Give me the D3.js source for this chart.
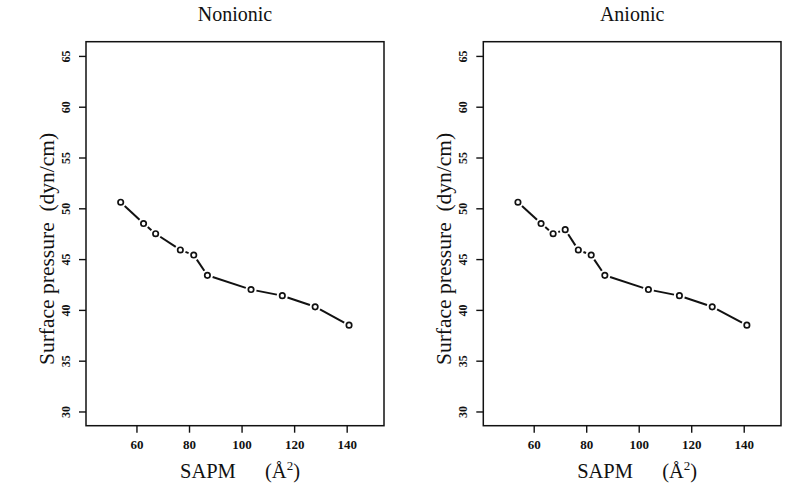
<!DOCTYPE html>
<html><head><meta charset="utf-8">
<script src="https://cdn.jsdelivr.net/npm/d3@7"></script>
<style>body{margin:0;background:#fff}svg{display:block}text{font-family:"Liberation Serif","Times New Roman",serif;fill:#111}</style>
</head><body><svg id="c" width="800" height="489"></svg>
<script>
const panelTitles = ["Nonionic", "Anionic"];
const nonionicX = [54.0, 62.7, 67.3, 76.7, 81.8, 87.0, 103.6, 115.5, 128.0, 140.9];
const nonionicY = [50.6, 48.5, 47.5, 45.9, 45.4, 43.4, 42.0, 41.4, 40.3, 38.5];
const anionicX = [54.0, 62.8, 67.4, 72.0, 77.0, 81.9, 87.1, 103.7, 115.5, 128.0, 141.2];
const anionicY = [50.6, 48.5, 47.5, 47.9, 45.9, 45.4, 43.4, 42.0, 41.4, 40.3, 38.5];
const xTicks = [60, 80, 100, 120, 140];
const yTicks = [30, 35, 40, 45, 50, 55, 60, 65];
const xLimits = [45, 150];
const yLimits = [30, 65];
const xLabel = "SAPM";
const xUnit = "(Å";
const yLabel = "Surface pressure  (dyn/cm)";

(function(){
const svg = d3.select("#c");
const ext = (l) => { const d = (l[1]-l[0])*0.04; return [l[0]-d, l[1]+d]; };
const panels = [
  {title: panelTitles[0], xs: nonionicX, ys: nonionicY, left: 86, right: 384},
  {title: panelTitles[1], xs: anionicX, ys: anionicY, left: 483.3, right: 781}
];
const plotTop = 41.7, plotBottom = 425.7;

panels.forEach(p => {
  const x = d3.scaleLinear().domain(ext(xLimits)).range([p.left, p.right]);
  const y = d3.scaleLinear().domain(ext(yLimits)).range([plotBottom, plotTop]);
  const g = svg.append("g");
  const cx = (p.left + p.right)/2;

  g.append("rect").attr("x", p.left).attr("y", plotTop).attr("width", p.right-p.left).attr("height", plotBottom-plotTop)
    .attr("fill", "none").attr("stroke", "#111").attr("stroke-width", 1.5);

  const xa = g.append("g").attr("transform", `translate(0,${plotBottom})`)
    .call(d3.axisBottom(x).tickValues(xTicks).tickSize(7).tickSizeOuter(0).tickPadding(4));
  xa.select(".domain").remove();
  xa.selectAll("line").attr("stroke", "#111").attr("stroke-width", 1.4);
  xa.selectAll("text").attr("font-size", 13).attr("font-weight", "bold").attr("dy", null).attr("y", 23.5)
    .style("font-family", '"Liberation Serif",serif').attr("fill", "#111");

  const ya = g.append("g").attr("transform", `translate(${p.left},0)`)
    .call(d3.axisLeft(y).tickValues(yTicks).tickSize(7).tickSizeOuter(0));
  ya.select(".domain").remove();
  ya.selectAll("line").attr("stroke", "#111").attr("stroke-width", 1.4);
  ya.selectAll("text").attr("font-size", 12).attr("font-weight", "bold").attr("x", null).attr("dy", null)
    .attr("text-anchor", "middle")
    .attr("transform", `translate(-16,0) rotate(-90)`)
    .style("font-family", '"Liberation Serif",serif').attr("fill", "#222");

  g.append("text").attr("x", cx).attr("y", 21).attr("text-anchor", "middle").attr("font-size", 20).text(p.title);
  g.append("text").attr("x", cx-55).attr("y", 477.5).attr("font-size", 20.5).text(xLabel);
  const u = g.append("text").attr("x", cx+30).attr("y", 477.5).attr("font-size", 20.5);
  u.append("tspan").text(xUnit);
  u.append("tspan").attr("font-size", 13).attr("dy", -8).text("2");
  u.append("tspan").attr("dy", 8).text(")");
  g.append("text").attr("transform", `translate(${p.left-32},365) rotate(-90)`)
    .attr("font-size", 21.5).style("white-space", "pre").text(yLabel);

  const pts = p.xs.map((v,i) => [x(v), y(p.ys[i])]);
  const gap = 5.5;
  for (let i = 0; i < pts.length-1; i++) {
    const [x1,y1] = pts[i], [x2,y2] = pts[i+1];
    const d = Math.hypot(x2-x1, y2-y1);
    if (d <= 2*gap) continue;
    const ux = (x2-x1)/d, uy = (y2-y1)/d;
    g.append("line").attr("x1", x1+ux*gap).attr("y1", y1+uy*gap).attr("x2", x2-ux*gap).attr("y2", y2-uy*gap)
      .attr("stroke", "#111").attr("stroke-width", 2);
  }
  g.selectAll("circle.pt").data(pts).join("circle").attr("class","pt")
    .attr("cx", d => d[0]).attr("cy", d => d[1]).attr("r", 2.7)
    .attr("fill", "#fff").attr("stroke", "#111").attr("stroke-width", 1.7);
});
})();
</script></body></html>
